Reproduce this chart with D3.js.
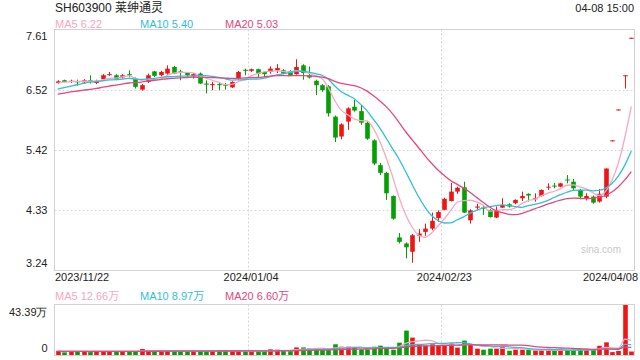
<!DOCTYPE html>
<html><head><meta charset="utf-8">
<script src="https://cdn.jsdelivr.net/npm/d3@7/dist/d3.min.js"></script>
<style>
body{margin:0;background:#fff}
svg{display:block;font-family:Arial,"Liberation Sans","Noto Sans CJK SC",sans-serif}
</style></head>
<body><svg id="c" width="640" height="360"></svg>
<script>
// ---------- data ----------
const dates = [
"2023/11/22","2023/11/23","2023/11/24","2023/11/27","2023/11/28","2023/11/29","2023/11/30",
"2023/12/01","2023/12/04","2023/12/05","2023/12/06","2023/12/07","2023/12/08","2023/12/11","2023/12/12","2023/12/13","2023/12/14","2023/12/15",
"2023/12/18","2023/12/19","2023/12/20","2023/12/21","2023/12/22","2023/12/25","2023/12/26","2023/12/27","2023/12/28","2023/12/29",
"2024/01/02","2024/01/03","2024/01/04","2024/01/05","2024/01/08","2024/01/09","2024/01/10","2024/01/11","2024/01/12",
"2024/01/15","2024/01/16","2024/01/17","2024/01/18","2024/01/19","2024/01/22","2024/01/23","2024/01/24","2024/01/25","2024/01/26",
"2024/01/29","2024/01/30","2024/01/31","2024/02/01","2024/02/02","2024/02/05","2024/02/06","2024/02/07","2024/02/08",
"2024/02/19","2024/02/20","2024/02/21","2024/02/22","2024/02/23","2024/02/26","2024/02/27","2024/02/28","2024/02/29",
"2024/03/01","2024/03/04","2024/03/05","2024/03/06","2024/03/07","2024/03/08","2024/03/11","2024/03/12","2024/03/13","2024/03/14","2024/03/15",
"2024/03/18","2024/03/19","2024/03/20","2024/03/21","2024/03/22","2024/03/25","2024/03/26","2024/03/27","2024/03/28","2024/03/29",
"2024/04/01","2024/04/02","2024/04/03","2024/04/08"];

const open = [6.64,6.69,6.66,6.67,6.65,6.69,6.64,6.71,6.79,6.78,6.74,6.80,6.72,6.52,6.66,6.85,6.78,6.81,6.93,6.85,
6.83,6.76,6.81,6.63,6.60,6.62,6.61,6.56,6.72,6.88,6.86,6.89,6.84,6.84,6.87,6.87,6.86,6.80,6.96,6.78,
6.68,6.60,6.58,6.03,5.67,5.94,6.21,6.13,5.92,5.60,5.15,5.01,4.59,3.84,3.73,3.58,3.87,3.94,4.00,4.19,
4.34,4.50,4.67,4.75,4.15,4.38,4.38,4.34,4.20,4.38,4.44,4.46,4.55,4.63,4.54,4.59,4.75,4.78,4.76,4.89,
4.85,4.70,4.55,4.58,4.49,4.58,5.60,6.16,6.78,7.46];
const high = [6.69,6.70,6.70,6.70,6.71,6.78,6.70,6.80,6.84,6.80,6.80,6.87,6.74,6.62,6.81,6.86,6.86,6.96,6.95,6.88,
6.84,6.82,6.83,6.69,6.66,6.66,6.64,6.67,6.86,6.90,6.90,6.90,6.85,6.94,6.98,6.89,6.87,7.07,6.98,6.94,
6.70,6.62,6.60,6.05,5.91,6.20,6.33,6.24,5.94,5.62,5.19,5.03,4.60,3.92,3.75,3.90,3.99,4.09,4.29,4.33,
4.56,4.83,4.76,4.85,4.35,4.45,4.43,4.35,4.40,4.55,4.46,4.53,4.67,4.64,4.64,4.71,4.82,4.83,4.83,4.97,
4.90,4.72,4.64,4.60,4.72,5.09,5.60,6.16,6.78,7.46];
const low = [6.62,6.65,6.64,6.59,6.64,6.63,6.62,6.69,6.77,6.69,6.72,6.74,6.54,6.50,6.64,6.75,6.76,6.79,6.80,6.69,
6.75,6.72,6.62,6.45,6.51,6.51,6.52,6.55,6.70,6.78,6.84,6.75,6.75,6.81,6.82,6.80,6.77,6.79,6.70,6.72,
6.42,6.48,6.03,5.57,5.62,5.79,6.12,5.88,5.61,5.15,4.97,4.52,4.16,3.73,3.46,3.38,3.76,3.87,3.97,4.12,
4.33,4.49,4.63,4.28,4.09,4.33,4.25,4.20,4.19,4.37,4.38,4.44,4.50,4.49,4.49,4.58,4.70,4.73,4.75,4.82,
4.70,4.53,4.51,4.45,4.47,4.55,5.60,6.16,6.54,7.46];
const close = [6.67,6.66,6.68,6.66,6.69,6.67,6.68,6.78,6.80,6.71,6.78,6.78,6.57,6.60,6.78,6.77,6.84,6.90,6.81,6.83,
6.78,6.80,6.63,6.61,6.62,6.60,6.59,6.66,6.84,6.86,6.89,6.81,6.80,6.90,6.91,6.81,6.78,6.93,6.82,6.74,
6.60,6.51,6.09,5.65,5.89,6.18,6.14,5.92,5.63,5.18,5.01,4.64,4.18,3.76,3.66,3.88,3.91,4.00,4.14,4.30,
4.54,4.67,4.74,4.29,4.33,4.40,4.36,4.21,4.32,4.43,4.40,4.52,4.59,4.60,4.55,4.70,4.76,4.77,4.82,4.88,
4.73,4.58,4.59,4.47,4.63,5.09,5.60,6.16,6.78,7.46];
// volume in 万 shares
const volume = [3.7,2.3,3.5,3.2,3.4,2.6,3.2,3.4,3.4,2.9,3.2,2.6,3.2,5.2,3.5,3.5,3.2,3.8,3.8,3.2,
3.2,3.5,3.7,3.7,3.7,3.4,3.4,3.4,3.7,3.4,3.4,3.4,3.4,4.9,4.6,3.7,3.4,6.6,6.6,5.8,
5.8,4.6,4.8,9.3,7.2,7.2,6.1,4.9,4.9,7.2,8.1,6.1,4.6,10.7,21.2,15.1,9.0,8.1,9.3,8.4,
8.1,9.9,6.4,12.5,9.0,5.5,4.6,5.5,5.5,8.1,3.7,4.6,4.6,4.6,4.0,4.0,4.0,4.0,4.6,4.6,
4.5,4.5,4.6,4.8,8.0,11.0,2.5,3.5,43.39,3.0];
// closes / volumes of the 19 sessions before the window (estimated from the MA lines' start)
const prevCloses = [6.30,6.28,6.33,6.36,6.40,6.35,6.32,6.38,6.37,6.41,6.38,6.40,6.43,6.44,6.45,6.58,6.62,6.65,6.67];
const prevVolumes = [3.1,2.9,3.4,3.0,2.8,3.3,3.2,2.7,3.0,3.1,3.3,2.9,3.0,3.4,3.1,2.8,3.2,3.0,3.3];

const priceTicks = [7.61,6.52,5.42,4.33,3.24];
const volTicks = [43.39,0];
const dateTicks = ["2023/11/22","2024/01/04","2024/02/23","2024/04/08"];
const gridDates = ["2024/01/04","2024/02/23"];
const title = "SH603900 莱绅通灵";
const timeText = "04-08 15:00";
const priceMALabels = ["MA5 6.22","MA10 5.40","MA20 5.03"];
const volMALabels = ["MA5 12.66万","MA10 8.97万","MA20 6.60万"];
const maPeriods = [5,10,20];

// ---------- style ----------
const UP="#f01414", DOWN="#03a003";
const MA_COLORS=["#f7a7c2","#2fbfdd","#e8467c"];
const GRID="#d6d6d6", FRAME="#d2d2d2";
const L=54.5,R=634.5,T=29.5,B=270.5,VT=304.5,VB=355.5;

const svg=d3.select("#c");
const x=d3.scaleBand().domain(dates).range([L,R]).padding(0);
const bw=x.bandwidth();
const cx=d=>x(d)+bw/2;
const y=d3.scaleLinear().domain([priceTicks[priceTicks.length-1],priceTicks[0]]).range([B,T]);
const yv=d3.scaleLinear().domain([0,volTicks[0]]).range([VB-0.5,VT+0.5]);

const rows=dates.map((d,i)=>({d,o:open[i],h:high[i],l:low[i],c:close[i],v:volume[i]}));

function movingAvg(vals,prev,k){
  const all=prev.concat(vals), off=prev.length;
  return vals.map((_,i)=>d3.mean(all.slice(Math.max(0,off+i-k+1),off+i+1)));
}

// frames
svg.append("rect").attr("x",L).attr("y",T).attr("width",R-L).attr("height",B-T)
  .attr("fill","none").attr("stroke",FRAME);
svg.append("rect").attr("x",L).attr("y",VT).attr("width",R-L).attr("height",VB-VT)
  .attr("fill","none").attr("stroke",FRAME);

// grid
const hg=priceTicks.slice(1,-1);
svg.append("g").selectAll("line").data(hg).join("line")
  .attr("x1",L).attr("x2",R).attr("y1",d=>Math.round(y(d))+0.5).attr("y2",d=>Math.round(y(d))+0.5)
  .attr("stroke",GRID).attr("stroke-dasharray","2,2");
svg.append("g").selectAll("line").data(gridDates).join("line")
  .attr("x1",d=>Math.round(x(d))+0.5).attr("x2",d=>Math.round(x(d))+0.5)
  .attr("y1",T).attr("y2",B).attr("stroke",GRID).attr("stroke-dasharray","2,2");
svg.append("g").selectAll("line").data(gridDates).join("line")
  .attr("x1",d=>Math.round(x(d))+0.5).attr("x2",d=>Math.round(x(d))+0.5)
  .attr("y1",VT).attr("y2",VB).attr("stroke",GRID).attr("stroke-dasharray","2,2");

// watermark
svg.append("text").attr("x",601).attr("y",253).attr("text-anchor","middle")
  .attr("font-size",10).attr("fill","#c8c8c8").text("sina.com");

// candles
const cg=svg.append("g");
const col=r=>r.c>=r.o?UP:DOWN;
cg.selectAll("line").data(rows).join("line")
  .attr("x1",r=>Math.round(cx(r.d))+0.5).attr("x2",r=>Math.round(cx(r.d))+0.5)
  .attr("y1",r=>y(r.h)).attr("y2",r=>Math.max(y(r.l),y(r.h)+1))
  .attr("stroke",col).attr("stroke-width",1);
const bodyW=4.6;
cg.selectAll("rect").data(rows).join("rect")
  .attr("x",r=>Math.round(cx(r.d))+0.5-bodyW/2).attr("width",bodyW)
  .attr("y",r=>y(Math.max(r.o,r.c)))
  .attr("height",r=>Math.max(1,Math.abs(y(r.o)-y(r.c))))
  .attr("fill",col);

// MA lines price
const line=d3.line().x((v,i)=>cx(dates[i])).y(v=>y(v)).curve(d3.curveMonotoneX);
maPeriods.forEach((k,j)=>{
  svg.append("path").datum(movingAvg(close,prevCloses,k)).attr("d",line)
    .attr("fill","none").attr("stroke",MA_COLORS[j]).attr("stroke-width",1.3);
});

// volume bars
svg.append("g").selectAll("rect").data(rows).join("rect")
  .attr("x",r=>Math.round(cx(r.d))+0.5-bodyW/2).attr("width",bodyW)
  .attr("y",r=>yv(r.v)).attr("height",r=>yv(0)-yv(r.v)).attr("fill",col);
const vline=d3.line().x((v,i)=>cx(dates[i])).y(v=>yv(v)).curve(d3.curveMonotoneX);
maPeriods.forEach((k,j)=>{
  svg.append("path").datum(movingAvg(volume,prevVolumes,k)).attr("d",vline)
    .attr("fill","none").attr("stroke",MA_COLORS[j]).attr("stroke-width",1.3);
});

// axes
const fmt=d3.format(".2f");
const ay=svg.append("g").attr("transform",`translate(${L-4},0)`)
  .call(d3.axisLeft(y).tickValues(priceTicks).tickSize(0).tickFormat(fmt));
ay.select(".domain").remove();
ay.selectAll("text").attr("font-size",11).attr("fill","#222").attr("font-family",null)
  .attr("dy",(d,i)=>i===0?"0.95em":(i===priceTicks.length-1?"-0.35em":"0.32em"));

const av=svg.append("g").attr("transform",`translate(${L-4},0)`)
  .call(d3.axisLeft(yv).tickValues(volTicks).tickSize(0).tickFormat(d=>d===0?"0":fmt(d)+"万"));
av.select(".domain").remove();
av.selectAll("text").attr("font-size",11).attr("fill","#222").attr("font-family",null)
  .attr("dy",d=>d===0?"-0.3em":"0.95em");

const ax=svg.append("g").attr("transform",`translate(0,${B+1})`)
  .call(d3.axisBottom(x).tickValues(dateTicks).tickSize(0).tickPadding(2));
ax.select(".domain").remove();
ax.selectAll("text").attr("font-size",11).attr("fill","#222").attr("font-family",null)
  .attr("text-anchor",(d,i)=>i===0?"start":(i===dateTicks.length-1?"end":"middle"))
  .attr("x",(d,i)=>i===0?L+0.5-cx(d):(i===dateTicks.length-1?R+3.5-cx(d):0));

// header texts
svg.append("text").attr("x",55).attr("y",12).attr("font-size",12).attr("fill","#222").text(title);
svg.append("text").attr("x",634).attr("y",12).attr("text-anchor","end").attr("font-size",11).attr("fill","#222").text(timeText);
const lblX=[55,140,225];
priceMALabels.forEach((t,j)=>svg.append("text").attr("x",lblX[j]).attr("y",28)
  .attr("font-size",11).attr("fill",MA_COLORS[j]).text(t));
volMALabels.forEach((t,j)=>svg.append("text").attr("x",lblX[j]).attr("y",300)
  .attr("font-size",11).attr("fill",MA_COLORS[j]).text(t));
</script></body></html>
